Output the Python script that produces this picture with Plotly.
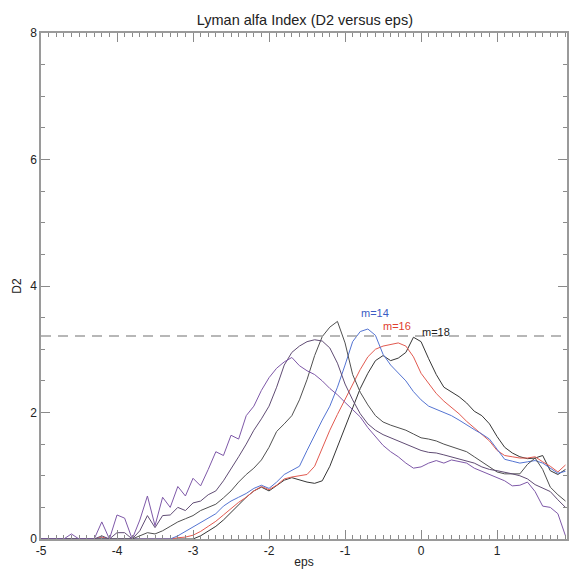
import plotly.graph_objects as go

eps = [-5.0, -4.9, -4.8, -4.7, -4.6, -4.5, -4.4, -4.3, -4.2, -4.1,
       -4.0, -3.9, -3.8, -3.7, -3.6, -3.5, -3.4, -3.3, -3.2, -3.1,
       -3.0, -2.9, -2.8, -2.7, -2.6, -2.5, -2.4, -2.3, -2.2, -2.1,
       -2.0, -1.9, -1.8, -1.7, -1.6, -1.5, -1.4, -1.3, -1.2, -1.1,
       -1.0, -0.9, -0.8, -0.7, -0.6, -0.5, -0.4, -0.3, -0.2, -0.1,
       0.0, 0.1, 0.2, 0.3, 0.4, 0.5, 0.6, 0.7, 0.8, 0.9,
       1.0, 1.1, 1.2, 1.3, 1.4, 1.5, 1.6, 1.7, 1.8, 1.9]

d2_m8 = [0, 0, 0, 0, 0.08, 0, 0, 0, 0.27, 0,
         0.38, 0.33, 0.0, 0.30, 0.68, 0.21, 0.66, 0.50, 0.83, 0.68,
         0.96, 0.84, 1.10, 1.38, 1.32, 1.64, 1.58, 1.95, 2.10, 2.35,
         2.55, 2.70, 2.80, 2.87, 2.74, 2.66, 2.60, 2.50, 2.38, 2.28,
         2.16, 2.05, 1.93, 1.76, 1.62, 1.48, 1.38, 1.30, 1.20, 1.12,
         1.14, 1.20, 1.24, 1.20, 1.25, 1.22, 1.20, 1.12, 1.07, 1.03,
         0.98, 0.92, 0.84, 0.85, 0.90, 0.75, 0.52, 0.50, 0.40, 0.05]

d2_m10 = [0, 0, 0, 0, 0, 0, 0, 0, 0.05, 0,
          0.10, 0.10, 0.0, 0.13, 0.37, 0.18, 0.37, 0.38, 0.50, 0.45,
          0.57, 0.60, 0.70, 0.76, 0.92, 1.10, 1.30, 1.50, 1.72, 1.90,
          2.10, 2.40, 2.75, 2.95, 3.05, 3.12, 3.15, 3.13, 3.02, 2.78,
          2.45, 2.20, 1.98, 1.82, 1.72, 1.65, 1.60, 1.55, 1.50, 1.45,
          1.40, 1.37, 1.36, 1.33, 1.30, 1.27, 1.23, 1.20, 1.14, 1.10,
          1.08, 1.06, 1.03, 1.00, 0.95, 0.86, 0.80, 0.75, 0.62, 0.50]

d2_m12 = [0, 0, 0, 0, 0, 0, 0, 0, 0, 0,
          0, 0, 0, 0.05, 0.10, 0.08, 0.13, 0.20, 0.27, 0.32,
          0.37, 0.45, 0.50, 0.55, 0.65, 0.76, 0.90, 1.02, 1.12, 1.25,
          1.45, 1.70, 1.82, 1.95, 2.20, 2.52, 2.90, 3.20, 3.35, 3.44,
          3.10, 2.60, 2.32, 2.12, 1.95, 1.85, 1.80, 1.76, 1.72, 1.66,
          1.60, 1.58, 1.55, 1.50, 1.46, 1.42, 1.38, 1.30, 1.22, 1.14,
          1.06, 1.03, 1.03, 1.03, 1.18, 1.28, 1.10, 0.82, 0.70, 0.60]

d2_m14 = [0, 0, 0, 0, 0, 0, 0, 0, 0, 0,
          0, 0, 0, 0, 0, 0, 0, 0, 0.05, 0.12,
          0.18, 0.25, 0.32, 0.40, 0.52, 0.60, 0.66, 0.72, 0.80, 0.85,
          0.80, 0.90, 1.02, 1.08, 1.15, 1.40, 1.65, 1.88, 2.10, 2.40,
          2.75, 3.12, 3.28, 3.32, 3.22, 2.92, 2.75, 2.62, 2.50, 2.33,
          2.20, 2.10, 2.05, 2.00, 1.95, 1.88, 1.80, 1.73, 1.66, 1.58,
          1.42, 1.26, 1.23, 1.20, 1.22, 1.24, 1.20, 1.12, 1.04, 1.07]

d2_m16 = [0, 0, 0, 0, 0, 0, 0, 0, 0.03, 0,
          0, 0, 0, 0, 0, 0, 0, 0, 0.02, 0.03,
          0.06, 0.12, 0.20, 0.28, 0.38, 0.48, 0.58, 0.66, 0.76, 0.83,
          0.78, 0.85, 0.95, 0.98, 1.00, 1.02, 1.15, 1.45, 1.72, 1.97,
          2.20, 2.45, 2.68, 2.88, 3.00, 3.05, 3.07, 3.10, 3.05, 2.88,
          2.62, 2.45, 2.30, 2.18, 2.08, 1.98, 1.86, 1.76, 1.66, 1.55,
          1.40, 1.32, 1.30, 1.28, 1.28, 1.30, 1.22, 1.15, 1.06, 1.17]

d2_m18 = [0, 0, 0, 0, 0, 0, 0, 0, 0, 0,
          0, 0, 0, 0, 0, 0, 0, 0, 0, 0,
          0, 0.05, 0.12, 0.20, 0.30, 0.42, 0.55, 0.66, 0.76, 0.82,
          0.76, 0.84, 0.93, 0.97, 0.93, 0.90, 0.88, 0.92, 1.15, 1.45,
          1.78, 2.08, 2.38, 2.62, 2.82, 2.90, 2.82, 2.86, 2.95, 3.19,
          3.12, 2.85, 2.60, 2.40, 2.32, 2.25, 2.15, 2.02, 1.95, 1.82,
          1.62, 1.45, 1.36, 1.30, 1.27, 1.28, 1.32, 1.08, 1.02, 1.10]

ref_level = 3.21

x_tickvals = [-5, -4, -3, -2, -1, 0, 1]
x_ticktext = ["-5", "-4", "-3", "-2", "-1", "0", "1"]
y_tickvals = [0, 2, 4, 6, 8]
y_ticktext = ["0", "2", "4", "6", "8"]

series = [
    ("m=18", d2_m18, "#363636"),
    ("m=16", d2_m16, "#e25a50"),
    ("m=14", d2_m14, "#5474d2"),
    ("m=12", d2_m12, "#505050"),
    ("m=10", d2_m10, "#604c74"),
    ("m=8", d2_m8, "#7e58a8"),
]

fig = go.Figure()
for name, vals, col in series:
    fig.add_trace(go.Scatter(x=eps, y=vals, mode="lines", name=name,
                             line=dict(color=col, width=1)))

fig.add_trace(go.Scatter(x=[-5, 1.92], y=[ref_level, ref_level], mode="lines",
                         line=dict(color="#a0a0a0", width=1.5, dash="10px,7px"),
                         showlegend=False))

font_family = "Liberation Sans, Arial, sans-serif"
fig.add_annotation(x=-0.6, y=3.58, text="m=14", showarrow=False,
                   font=dict(color="#3a5cc4", size=11, family=font_family))
fig.add_annotation(x=-0.31, y=3.36, text="m=16", showarrow=False,
                   font=dict(color="#e0402f", size=11, family=font_family))
fig.add_annotation(x=0.2, y=3.27, text="m=18", showarrow=False,
                   font=dict(color="#222222", size=11, family=font_family))

axis_common = dict(showgrid=False, zeroline=False, showline=True,
                   linecolor="#9a9a9a", linewidth=1.5, mirror="ticks",
                   ticks="inside", tickcolor="#8a8a8a", ticklen=9,
                   tickfont=dict(size=12, color="#222222", family=font_family))

fig.update_layout(
    width=572, height=570,
    margin=dict(l=41, r=3, t=33, b=30),
    paper_bgcolor="white", plot_bgcolor="white",
    showlegend=False,
    title=dict(text="Lyman alfa Index (D2 versus eps)", x=0.533, xanchor="center",
               y=0.965, yanchor="middle",
               font=dict(size=14.5, color="#222222", family=font_family)),
    xaxis=dict(range=[-5, 1.92], tickmode="array", tickvals=x_tickvals, ticktext=x_ticktext,
               title=dict(text="eps", standoff=0, font=dict(size=12, color="#222222", family=font_family)),
               minor=dict(dtick=0.1, tick0=0, ticks="inside", ticklen=4, tickcolor="#8a8a8a"),
               **axis_common),
    yaxis=dict(range=[0, 8], tickmode="array", tickvals=y_tickvals, ticktext=y_ticktext,
               title=dict(text="D2", standoff=6, font=dict(size=12, color="#222222", family=font_family)),
               minor=dict(dtick=0.5, tick0=0, ticks="inside", ticklen=4, tickcolor="#8a8a8a"),
               **axis_common),
)

fig.write_html("out.html")
